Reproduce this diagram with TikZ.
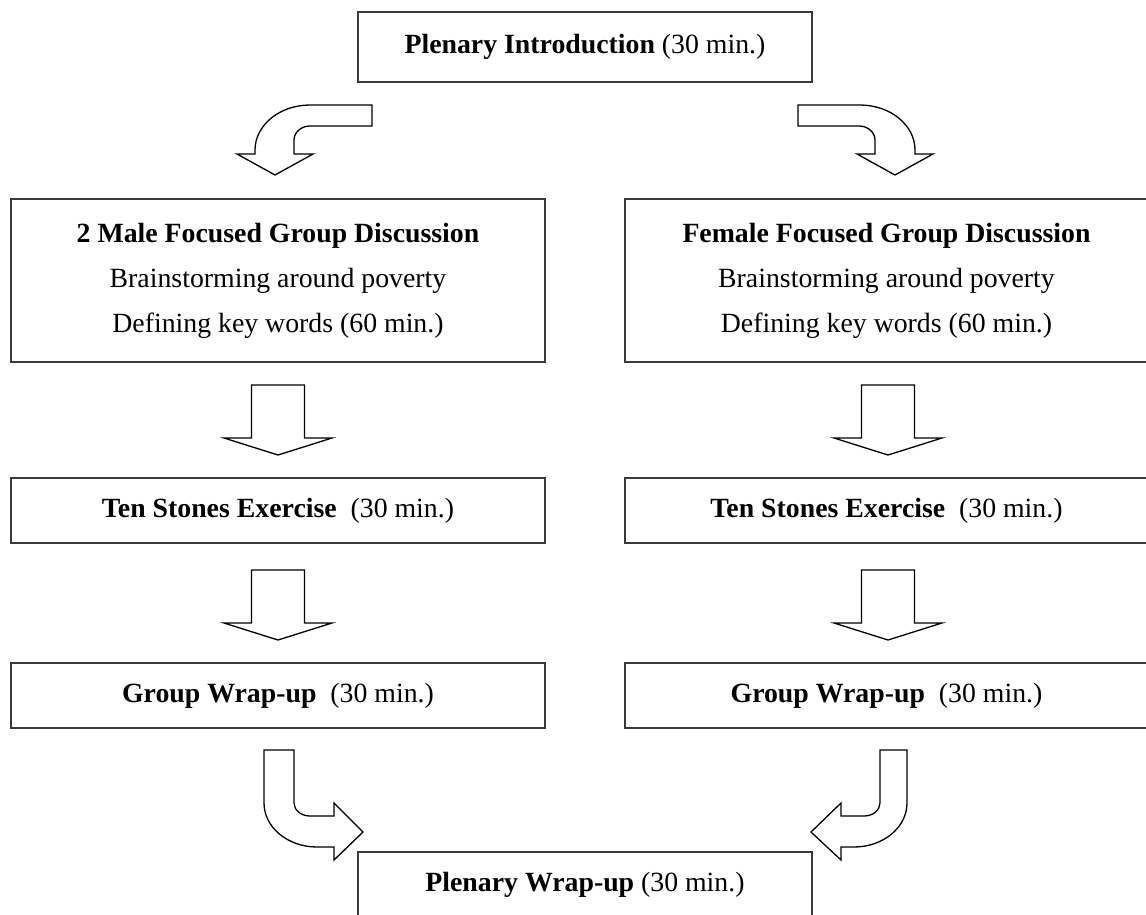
\documentclass[tikz,border=0pt]{standalone}
\usepackage{fontspec}
\setmainfont{Liberation Serif}
\definecolor{boxgray}{HTML}{3A3A3A}
\begin{document}
\begin{tikzpicture}[x=1pt,y=-1pt,
  box/.style={draw=boxgray, line width=1.2pt, rectangle, inner sep=0pt,
    font=\fontsize{27.8}{45}\selectfont, align=center},
  blockarrow/.style={draw=black, line width=1.3pt, fill=white, line join=miter}]
\useasboundingbox (0,0) rectangle (1146,914);
\clip (0,0) rectangle (1146,914);

% boxes
\node[box, minimum width=454pt, minimum height=70pt] (intro) at (585,47)
  {\textbf{Plenary Introduction} (30 min.)};
\node[box, minimum width=534pt, minimum height=163pt] (maleFGD) at (278,280.5)
  {\textbf{2 Male Focused Group Discussion}\\Brainstorming around poverty\\Defining key words (60 min.)};
\node[box, minimum width=523pt, minimum height=163pt] (femFGD) at (886.5,280.5)
  {\textbf{Female Focused Group Discussion}\\Brainstorming around poverty\\Defining key words (60 min.)};
\node[box, minimum width=534pt, minimum height=65pt] (maleTen) at (278,510.5)
  {\textbf{Ten Stones Exercise}~ (30 min.)};
\node[box, minimum width=523pt, minimum height=65pt] (femTen) at (886.5,510.5)
  {\textbf{Ten Stones Exercise}~ (30 min.)};
\node[box, minimum width=534pt, minimum height=65pt] (maleWrap) at (278,695.5)
  {\textbf{Group Wrap-up}~ (30 min.)};
\node[box, minimum width=523pt, minimum height=65pt] (femWrap) at (886.5,695.5)
  {\textbf{Group Wrap-up}~ (30 min.)};
\node[box, minimum width=454pt, minimum height=65pt] (plenWrap) at (585,884.5)
  {\textbf{Plenary Wrap-up} (30 min.)};

% top curved arrows
\draw[blockarrow] (372,105) -- (310,105) .. controls (279.6,105) and (255,125.2) .. (255,150)
  -- (255,154) -- (237,154) -- (275,175) -- (313,154) -- (294,154) -- (294,140)
  .. controls (294,132.3) and (301.2,126) .. (310,126) -- (372,126) -- cycle;
\draw[blockarrow] (798,105) -- (860,105) .. controls (890.4,105) and (915,125.2) .. (915,150)
  -- (915,154) -- (933,154) -- (895,175) -- (857,154) -- (875,154) -- (875,140)
  .. controls (875,132.3) and (867.8,126) .. (859,126) -- (798,126) -- cycle;

% straight arrows
\foreach \cx/\ty in {278/385, 888/385, 278/570, 888/570}{
  \draw[blockarrow] (\cx-26.5,\ty) -- (\cx+26.5,\ty) -- (\cx+26.5,\ty+53) -- (\cx+54,\ty+53)
    -- (\cx,\ty+70) -- (\cx-54,\ty+53) -- (\cx-26.5,\ty+53) -- cycle;
}

% bottom curved arrows
\draw[blockarrow] (264,750) -- (264,803) .. controls (264,827.3) and (287.7,847) .. (317,847)
  -- (334,847) -- (334,860) -- (363,832) -- (334,803) -- (334,816) -- (310,816)
  .. controls (301.2,816) and (294,810.2) .. (294,803) -- (294,750) -- cycle;
\draw[blockarrow] (907,750) -- (907,803) .. controls (907,827.3) and (883.3,847) .. (854,847)
  -- (841,847) -- (841,860) -- (811,832) -- (841,803) -- (841,816) -- (864,816)
  .. controls (872.8,816) and (880,810.2) .. (880,803) -- (880,750) -- cycle;
\end{tikzpicture}
\end{document}
